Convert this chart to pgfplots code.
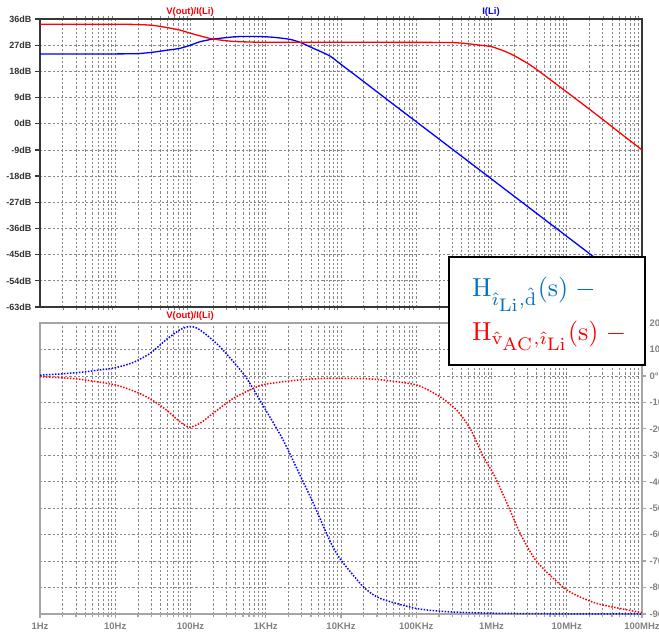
\documentclass[border=0pt]{standalone}
\usepackage[no-math]{fontspec}
\setmainfont{Liberation Sans}
\usepackage{pgfplots}
\pgfplotsset{compat=1.18}
\definecolor{ltred}{RGB}{255,0,0}
\definecolor{ltblue}{RGB}{0,0,255}
\definecolor{wblue}{RGB}{0,112,192}
\definecolor{frameDark}{RGB}{55,55,55}
\definecolor{frameLight}{RGB}{165,165,165}
\definecolor{gridc}{RGB}{135,135,135}
\definecolor{labDark}{RGB}{50,50,50}
\definecolor{labLight}{RGB}{130,130,130}
\begin{document}
\begin{tikzpicture}
% ---------- magnitude pane ----------
\begin{axis}[
  scale only axis, width=602pt, height=288pt,
  at={(40pt,-19pt)}, anchor=north west,
  xmode=log, xmin=1, xmax=1e8,
  xtick={1,10,100,1000,10000,100000,1000000,10000000,100000000},
  minor xtick={2,3,4,5,6,7,8,9,20,30,40,50,60,70,80,90,200,300,400,500,600,700,800,900,2000,3000,4000,5000,6000,7000,8000,9000,20000,30000,40000,50000,60000,70000,80000,90000,200000,300000,400000,500000,600000,700000,800000,900000,2000000,3000000,4000000,5000000,6000000,7000000,8000000,9000000,20000000,30000000,40000000,50000000,60000000,70000000,80000000,90000000},
  grid=both,
  major grid style={gridc, line width=0.75pt, dash pattern=on 2.2pt off 2pt},
  minor grid style={gridc, line width=0.75pt, dash pattern=on 2.2pt off 2pt},
  tick align=outside,
  ymin=-63, ymax=36,
  ytick={-63,-54,-45,-36,-27,-18,-9,0,9,18,27,36},
  yticklabels={-63dB,-54dB,-45dB,-36dB,-27dB,-18dB,-9dB,0dB,9dB,18dB,27dB,36dB},
  xticklabels={},
  xmajorticks=false, xminorticks=false,
  ytick pos=left,
  major tick length=5pt,
  ytick style={frameDark, line width=1.3pt},
  yticklabel style={font=\fontsize{9}{10}\selectfont\bfseries, text=labDark},
  axis line style={frameDark, line width=1.6pt},
]
\addplot[ltblue, line width=1.3pt, smooth, tension=0.4] coordinates {
(1,24.0) (5,24.0) (10,24.0) (20,24.1) (32,24.6) (50,25.3) (72,25.9) (100,27.0)
(134,28.2) (200,29.1) (300,29.6) (370,29.85) (500,30.0) (700,30.0) (1000,29.9)
(1400,29.6) (2100,29.0) (2850,28.0) (4300,25.9) (7100,23.3) (10000,20.4)
(20000,14.5) (50000,6.6) (100000,0.7) (1000000,-19.0) (10000000,-38.7) (100000000,-58.4)};
\addplot[ltred, line width=1.3pt, smooth, tension=0.4] coordinates {
(1,34.2) (10,34.2) (20,34.1) (32,33.8) (50,33.0) (72,32.2) (100,31.1) (134,30.2)
(200,29.1) (370,28.3) (700,28.05) (1000,28.0) (200000,27.95) (400000,27.7)
(700000,27.0) (1000000,26.5) (1500000,24.9) (2000000,23.4) (3000000,20.8)
(4000000,18.6) (6000000,15.2) (10000000,10.9) (20000000,5.0) (34000000,0.4)
(50000000,-3.0) (100000000,-9.0)};
\end{axis}
% ---------- phase pane ----------
\begin{axis}[
  scale only axis, width=602pt, height=291pt,
  at={(40pt,-323pt)}, anchor=north west,
  xmode=log, xmin=1, xmax=1e8,
  xtick={1,10,100,1000,10000,100000,1000000,10000000,100000000},
  minor xtick={2,3,4,5,6,7,8,9,20,30,40,50,60,70,80,90,200,300,400,500,600,700,800,900,2000,3000,4000,5000,6000,7000,8000,9000,20000,30000,40000,50000,60000,70000,80000,90000,200000,300000,400000,500000,600000,700000,800000,900000,2000000,3000000,4000000,5000000,6000000,7000000,8000000,9000000,20000000,30000000,40000000,50000000,60000000,70000000,80000000,90000000},
  grid=both,
  major grid style={gridc, line width=0.75pt, dash pattern=on 2.2pt off 2pt},
  minor grid style={gridc, line width=0.75pt, dash pattern=on 2.2pt off 2pt},
  tick align=outside,
  ymin=-90, ymax=20,
  ytick={-90,-80,-70,-60,-50,-40,-30,-20,-10,0,10,20},
  yticklabels={-90°,-80°,-70°,-60°,-50°,-40°,-30°,-20°,-10°,0°,10°,20°},
  xticklabels={1Hz,10Hz,100Hz,1KHz,10KHz,100KHz,1MHz,10MHz,100MHz},
  ytick pos=right, yticklabel pos=right,
  xtick pos=left,
  major tick length=4pt, minor tick length=3pt,
  tick style={frameLight, line width=1.2pt},
  ticklabel style={font=\fontsize{9.5}{10}\selectfont\bfseries, text=labLight},
  xticklabel style={yshift=-1.5pt},
  axis line style={frameLight, line width=1.8pt},
]
\addplot[ltblue, line width=1.5pt, dash pattern=on 1.5pt off 1.5pt, smooth, tension=0.4] coordinates {
(1,0.3) (2,0.8) (3,1.2) (5,1.9) (10,3.1) (17,5.0) (29,8.5) (48,13.8) (72,17.4)
(96,18.7) (121,18.1) (164,15.5) (247,11.0) (370,5.4) (557,-0.9) (1000,-12.9)
(1700,-24.2) (2850,-37.5) (4300,-48.2) (7100,-62.3) (10000,-69.6) (19800,-79.7)
(33000,-84.1) (100000,-87.9) (250000,-89.1) (1000000,-89.7) (10000000,-89.95) (100000000,-90)};
\addplot[ltred, line width=1.5pt, dash pattern=on 1.5pt off 1.5pt, smooth, tension=0.4] coordinates {
(1,-0.3) (3,-1.1) (10,-3.4) (21,-6.6) (32,-9.4) (48,-12.9) (72,-17.3) (96,-19.4)
(134,-17.9) (200,-14.1) (370,-8.5) (684,-4.7) (1000,-3.1) (2850,-1.5) (7100,-0.9)
(27000,-1.2) (100000,-3.4) (207000,-7.9) (344000,-12.9) (518000,-19.8) (778000,-30.5)
(1110000,-38.1) (1760000,-50.7) (2400000,-59.5) (4000000,-70.2) (10000000,-80.9)
(25000000,-86.0) (100000000,-89.5)};
\end{axis}
% ---------- pane titles ----------
\node[text=ltred, font=\fontsize{9.5}{10}\selectfont\bfseries] at (190pt,-12pt) {V(out)/I(Li)};
\node[text=ltblue, font=\fontsize{9.5}{10}\selectfont\bfseries] at (491pt,-12pt) {I(Li)};
\node[text=ltred, font=\fontsize{9.5}{10}\selectfont\bfseries] at (190pt,-316pt) {V(out)/I(Li)};
% ---------- legend box ----------
\draw[black, fill=white, line width=1.2pt] (449pt,-257pt) rectangle (645pt,-365pt);
\node[anchor=base west, inner sep=0pt, text=wblue, scale=2.6] at (471.5pt,-296.7pt)
  {$\mathrm{H}_{\hat{\imath}_{\scriptstyle\mathrm{Li}},\hat{\mathrm{d}}}(\mathrm{s})\;-$};
\node[anchor=base west, inner sep=0pt, text=ltred, scale=2.6] at (471.5pt,-340.7pt)
  {$\mathrm{H}_{\hat{\mathrm{v}}_{\scriptstyle\mathrm{AC}},\hat{\imath}_{\scriptstyle\mathrm{Li}}}(\mathrm{s})\;-$};
\pgfresetboundingbox
\path[use as bounding box] (0pt,0pt) rectangle (659pt,-632pt);
\end{tikzpicture}
\end{document}
